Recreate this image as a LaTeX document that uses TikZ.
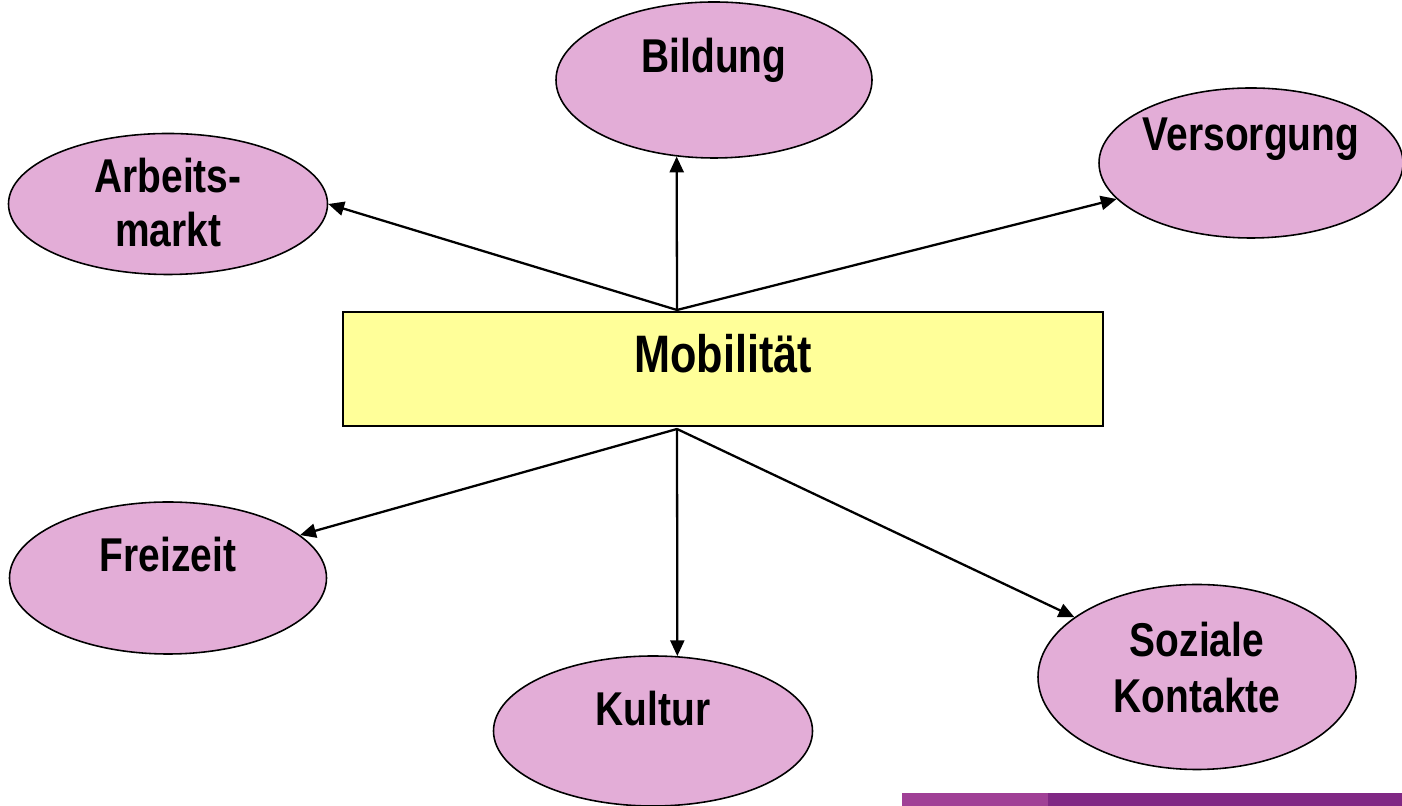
\documentclass[tikz,border=0pt]{standalone}
\usepackage{fontspec}
\setmainfont{Liberation Sans}[FakeStretch=0.82]
\usepackage{xcolor}
\usetikzlibrary{shapes.geometric,arrows.meta}
\definecolor{blobpink}{HTML}{E3ADD7}
\definecolor{mobyellow}{HTML}{FFFF99}
\definecolor{barlight}{HTML}{A04096}
\definecolor{bardark}{HTML}{802884}

\begin{document}
\begin{tikzpicture}
\tikzstyle{topic}=[ellipse, draw, line width=0.9pt, fill=blobpink,
                   inner sep=0pt]
\tikzstyle{word}=[font=\bfseries\fontsize{27}{26}\selectfont,
                  align=center, inner sep=0pt]
\tikzstyle{link}=[line width=1.3pt, -{Triangle[length=9pt,width=8pt]}]
\useasboundingbox (0,0) rectangle (28.04,16.12);
\fill[barlight] (18.04,0) rectangle (20.96,0.26);
\fill[bardark] (20.96,0) rectangle (28.04,0.26);
\node[rectangle, draw, line width=0.9pt, fill=mobyellow,
      minimum width=15.2cm, minimum height=2.28cm,
      label={[word, font=\bfseries\fontsize{30}{30}\selectfont, yshift=0.31cm]center:Mobilität}] (mob) at (14.46,8.74) {};
\node[topic, minimum width=6.32cm, minimum height=3.12cm,
      label={[word, yshift=0.39cm]center:Bildung}] (bil) at (14.28,14.52) {};
\node[topic, minimum width=6.38cm, minimum height=2.82cm,
      label={[word, font=\bfseries\fontsize{27}{31}\selectfont, yshift=0.03cm]center:Arbeits-\\markt}] (arb) at (3.36,12.04) {};
\node[topic, minimum width=6.08cm, minimum height=3.0cm,
      label={[word, yshift=0.48cm]center:Versorgung}] (ver) at (25.02,12.86) {};
\node[topic, minimum width=6.34cm, minimum height=3.04cm,
      label={[word, yshift=0.46cm]center:Freizeit}] (frz) at (3.36,4.56) {};
\node[topic, minimum width=6.38cm, minimum height=3.0cm,
      label={[word, yshift=0.45cm]center:Kultur}] (kul) at (13.06,1.50) {};
\node[topic, minimum width=6.36cm, minimum height=3.7cm,
      label={[word, font=\bfseries\fontsize{27}{32}\selectfont, yshift=0.19cm]center:Soziale\\Kontakte}] (soz) at (23.94,2.58) {};
\coordinate (mtop) at (13.54,9.92);
\coordinate (mbot) at (13.54,7.54);
\foreach \a/\b in {mtop/bil.244,mtop/arb.east,mtop/ver.195,mbot/frz.18,mbot/kul.72,mbot/soz.154}{\draw[link] (\a) -- (\b);}
\end{tikzpicture}
\end{document}
